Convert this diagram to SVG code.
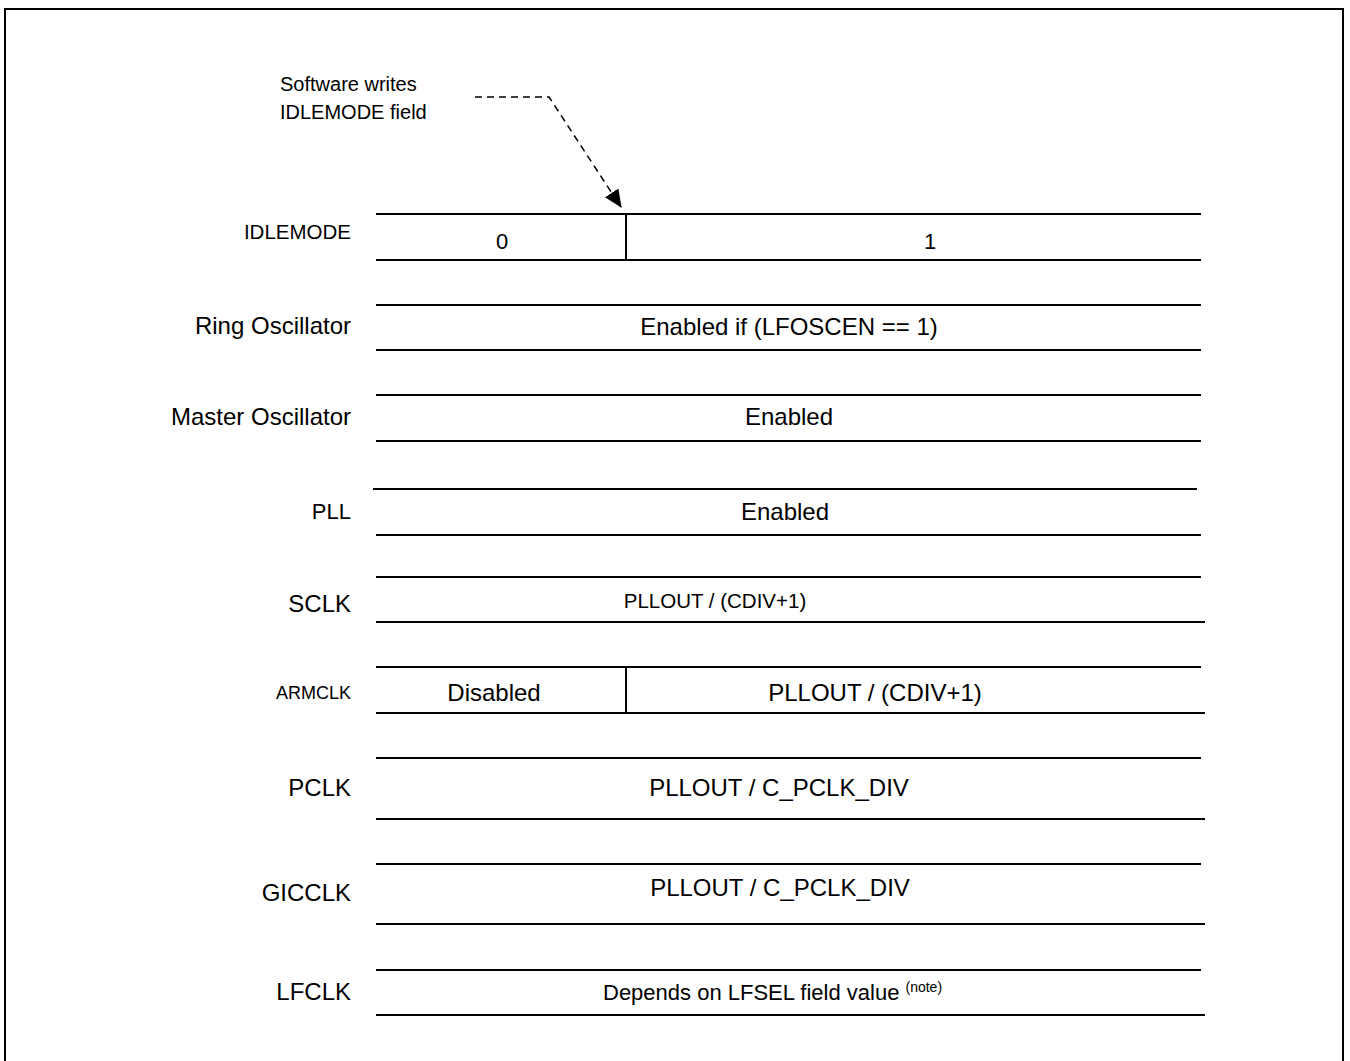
<svg xmlns="http://www.w3.org/2000/svg" width="1350" height="1061" viewBox="0 0 1350 1061">
<style>
text { font-family: "Liberation Sans", Arial, sans-serif; font-size: 24px; fill: #000; }
.lbl { text-anchor: end; }
.val { text-anchor: middle; }
.note { font-size: 20px; }
.ln { stroke: #000; stroke-width: 2; fill: none; }
.dash { stroke: #000; stroke-width: 1.5; fill: none; stroke-dasharray: 7 5; }
</style>
<defs>
<marker id="ah" markerWidth="18" markerHeight="16" refX="17" refY="8" orient="auto" markerUnits="userSpaceOnUse" viewBox="0 0 18 16">
<path d="M0,0 L18,8 L0,16 Z" fill="#000"/>
</marker>
</defs>
<rect x="0" y="0" width="1350" height="1061" fill="#fff"/>
<path class="ln" d="M5,1061 V9 H1343 V1061"/>

<g id="note">
<text class="note" x="280" y="91">Software writes</text>
<text class="note" x="280" y="119">IDLEMODE field</text>
</g>

<g id="connectors">
<path class="dash" d="M475,97 H549 L621,207" marker-end="url(#ah)"/>
</g>

<g id="row-idlemode">
<text class="lbl" x="351" y="239" style="font-size:20.5px">IDLEMODE</text>
<line class="ln" x1="376" y1="214" x2="1201" y2="214"/>
<line class="ln" x1="376" y1="260" x2="1201" y2="260"/>
<line class="ln" x1="626" y1="214" x2="626" y2="260"/>
<text class="val" x="502" y="249" style="font-size:22px">0</text>
<text class="val" x="930" y="249" style="font-size:22px">1</text>
</g>

<g id="row-ring">
<text class="lbl" x="351" y="334">Ring Oscillator</text>
<line class="ln" x1="376" y1="305" x2="1201" y2="305"/>
<line class="ln" x1="376" y1="350" x2="1201" y2="350"/>
<text class="val" x="789" y="335">Enabled if (LFOSCEN == 1)</text>
</g>

<g id="row-master">
<text class="lbl" x="351" y="425">Master Oscillator</text>
<line class="ln" x1="376" y1="395" x2="1201" y2="395"/>
<line class="ln" x1="376" y1="441" x2="1201" y2="441"/>
<text class="val" x="789" y="425">Enabled</text>
</g>

<g id="row-pll">
<text class="lbl" x="351" y="519" style="font-size:22px">PLL</text>
<line class="ln" x1="373" y1="489" x2="1197" y2="489"/>
<line class="ln" x1="376" y1="535" x2="1201" y2="535"/>
<text class="val" x="785" y="520">Enabled</text>
</g>

<g id="row-sclk">
<text class="lbl" x="351" y="612">SCLK</text>
<line class="ln" x1="376" y1="577" x2="1201" y2="577"/>
<line class="ln" x1="376" y1="622" x2="1205" y2="622"/>
<text class="val" x="715" y="608" style="font-size:20.5px">PLLOUT / (CDIV+1)</text>
</g>

<g id="row-armclk">
<text class="lbl" x="351" y="699" style="font-size:18px">ARMCLK</text>
<line class="ln" x1="376" y1="667" x2="1201" y2="667"/>
<line class="ln" x1="376" y1="713" x2="1205" y2="713"/>
<line class="ln" x1="626" y1="667" x2="626" y2="713"/>
<text class="val" x="494" y="701">Disabled</text>
<text class="val" x="875" y="701">PLLOUT / (CDIV+1)</text>
</g>

<g id="row-pclk">
<text class="lbl" x="351" y="796">PCLK</text>
<line class="ln" x1="376" y1="758" x2="1201" y2="758"/>
<line class="ln" x1="376" y1="819" x2="1205" y2="819"/>
<text class="val" x="779" y="796">PLLOUT / C_PCLK_DIV</text>
</g>

<g id="row-gicclk">
<text class="lbl" x="351" y="901">GICCLK</text>
<line class="ln" x1="376" y1="864" x2="1201" y2="864"/>
<line class="ln" x1="376" y1="924" x2="1205" y2="924"/>
<text class="val" x="780" y="896">PLLOUT / C_PCLK_DIV</text>
</g>

<g id="row-lfclk">
<text class="lbl" x="351" y="1000">LFCLK</text>
<line class="ln" x1="376" y1="970" x2="1201" y2="970"/>
<line class="ln" x1="376" y1="1015" x2="1205" y2="1015"/>
<text x="603" y="1000" style="font-size:22px">Depends on LFSEL field value <tspan style="font-size:14px" dy="-8">(note)</tspan></text>
</g>
</svg>
